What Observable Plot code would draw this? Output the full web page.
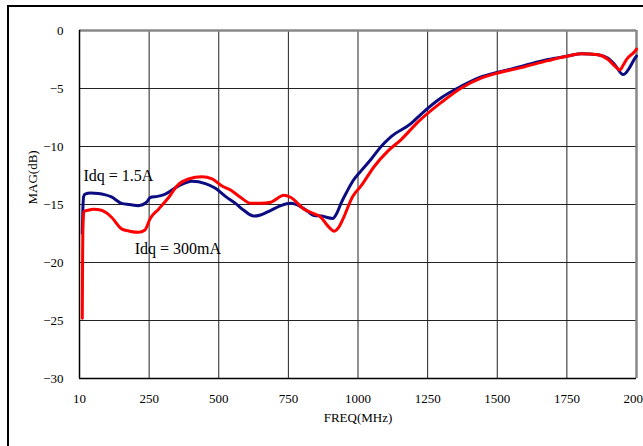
<!DOCTYPE html>
<html>
<head>
<meta charset="utf-8">
<script src="https://cdn.jsdelivr.net/npm/d3@7"></script>
<script src="https://cdn.jsdelivr.net/npm/@observablehq/plot@0.6"></script>
<style>
  html, body { margin: 0; padding: 0; background: #fff; }
  #wrap { position: relative; width: 643px; height: 446px; overflow: hidden; }
  #outer { position: absolute; left: 7px; top: 5px; width: 700px; height: 600px; border: 2px solid #000; pointer-events: none; box-sizing: border-box; }
</style>
</head>
<body>
<div id="wrap"><div id="outer"></div></div>
<script>
// Idq = 1.5A (blue)
const blueFreq = [10,12,15,20,40,68,90,115,151,180,212,241,254,280,308,356,403,452,488,524,560,590,626,650,687,723,759,795,820,842,870,909,925,939,960,981,1011,1047,1083,1119,1191,1227,1299,1371,1442,1502,1586,1682,1754,1802,1862,1898,1922,1952,1970,1994,2000];
const blueMag  = [-17.5,-15.5,-14.3,-14.1,-14.0,-14.05,-14.15,-14.35,-14.9,-15.0,-15.1,-14.8,-14.4,-14.3,-14.1,-13.4,-13.0,-13.2,-13.6,-14.3,-14.9,-15.5,-16.0,-15.9,-15.5,-15.1,-14.9,-15.2,-15.6,-15.95,-16.0,-16.2,-15.7,-14.9,-13.9,-13.0,-12.1,-11.1,-10.0,-9.15,-8.0,-7.2,-5.8,-4.8,-4.0,-3.6,-3.1,-2.5,-2.2,-2.0,-2.1,-2.4,-2.95,-3.8,-3.4,-2.4,-2.2];
// Idq = 300mA (red)
const redFreq = [10,11,13,16,30,50,79,95,115,151,180,212,235,254,284,320,350,391,440,476,512,545,579,615,650,687,734,759,806,842,867,890,915,930,945,981,1011,1059,1107,1155,1215,1299,1371,1442,1502,1586,1682,1754,1802,1862,1898,1928,1940,1952,1964,1994,2000];
const redMag  = [-24.8,-20,-16.5,-15.6,-15.5,-15.4,-15.5,-15.7,-16.1,-17.1,-17.3,-17.4,-17.2,-16.2,-15.4,-14.4,-13.4,-12.8,-12.6,-12.8,-13.4,-13.8,-14.4,-14.9,-14.9,-14.8,-14.2,-14.4,-15.4,-15.8,-16.1,-16.8,-17.3,-17.0,-16.3,-14.3,-13.4,-11.7,-10.4,-9.4,-7.9,-6.2,-4.95,-4.1,-3.66,-3.2,-2.6,-2.2,-2.0,-2.1,-2.5,-3.2,-3.4,-3.0,-2.5,-1.8,-1.6];

const xTicks = [0,250,500,750,1000,1250,1500,1750,2000];
const xTickLabels = ["10","250","500","750","1000","1250","1500","1750","2000"];
const yTicks = [0,-5,-10,-15,-20,-25,-30];
const seriesNames = ["Idq = 1.5A", "Idq = 300mA"];
const labelFreq = [14, 198];
const labelMag = [-12.5, -18.8];

const blue = blueFreq.map((f, i) => ({f, v: blueMag[i]}));
const red = redFreq.map((f, i) => ({f, v: redMag[i]}));
const labels = seriesNames.map((t, i) => ({t, f: labelFreq[i], v: labelMag[i]}));

const chart = Plot.plot({
  width: 643,
  height: 446,
  marginLeft: 79,
  marginRight: 7,
  marginTop: 30,
  marginBottom: 68,
  style: {fontFamily: "'Liberation Serif', 'Times New Roman', serif", fontSize: "13px", background: "transparent", color: "#000"},
  x: {domain: [0, 2000], ticks: xTicks, tickFormat: d => xTickLabels[xTicks.indexOf(d)], tickSize: 0, tickPadding: 15, label: null},
  y: {domain: [-30, 0], ticks: yTicks, tickSize: 0, tickPadding: 16, label: null},
  marks: [
    Plot.ruleX(xTicks.slice(1, -1), {stroke: "#222", strokeWidth: 1}),
    Plot.ruleY(yTicks.slice(1, -1), {stroke: "#222", strokeWidth: 1}),
    Plot.ruleY([0], {stroke: "#888", strokeWidth: 2.5}),
    Plot.ruleX([2000], {stroke: "#888", strokeWidth: 2.5}),
    Plot.ruleX([0], {stroke: "#000", strokeWidth: 1.5}),
    Plot.ruleY([-30], {stroke: "#000", strokeWidth: 1.5}),
    Plot.line(blue, {x: "f", y: "v", stroke: "#0c0c82", strokeWidth: 3, curve: "monotone-x"}),
    Plot.line(red, {x: "f", y: "v", stroke: "#ff0000", strokeWidth: 3, curve: "monotone-x"}),
    Plot.text(labels, {x: "f", y: "v", text: "t", textAnchor: "start", fontSize: 16, fill: "#000"}),
    Plot.text(["FREQ(MHz)"], {frameAnchor: "bottom", dy: 43, text: d => d, fontSize: 13, fill: "#000"}),
    Plot.text(["MAG(dB)"], {frameAnchor: "left", dx: -47, rotate: -90, text: d => d, fontSize: 13, fill: "#000"})
  ]
});
chart.style.position = "absolute";
chart.style.left = "0px";
chart.style.top = "0px";
document.getElementById("wrap").insertBefore(chart, document.getElementById("outer"));
</script>
</body>
</html>
